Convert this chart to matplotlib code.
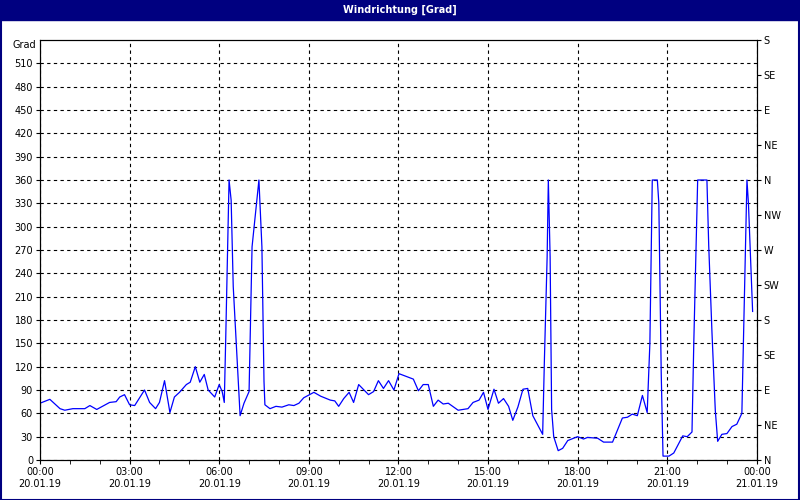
import matplotlib
matplotlib.use("Agg")
import matplotlib.pyplot as plt

# hours since 20.01.19 00:00, wind direction in degrees
hours = [0, 0.33, 0.67, 0.83, 1.1, 1.5, 1.67, 1.9, 2.33, 2.55, 2.67, 2.83, 3.0, 3.17, 3.5,
         3.67, 3.87, 4.0, 4.17, 4.35, 4.5, 4.67, 4.9, 5.03, 5.2, 5.35, 5.5, 5.63, 5.85, 6.0,
         6.1, 6.17, 6.22, 6.33, 6.4, 6.47, 6.7, 6.83, 7.0, 7.1, 7.33, 7.43, 7.5, 7.53, 7.7,
         7.9, 8.1, 8.33, 8.5, 8.67, 8.83, 9.17, 9.4, 9.72, 9.87, 10.0, 10.17, 10.35, 10.5,
         10.67, 11.0, 11.17, 11.33, 11.5, 11.67, 11.85, 12.02, 12.5, 12.67, 12.83, 13.0,
         13.17, 13.33, 13.5, 13.67, 14.0, 14.33, 14.5, 14.7, 14.85, 15.0, 15.2, 15.35, 15.52,
         15.69, 15.83, 16.0, 16.17, 16.33, 16.5, 16.83, 16.89, 16.98, 17.02, 17.08, 17.13,
         17.2, 17.35, 17.5, 17.67, 18.0, 18.2, 18.33, 18.67, 18.87, 19.17, 19.5, 19.67,
         19.83, 20.0, 20.17, 20.33, 20.42, 20.5, 20.67, 20.72, 20.8, 20.86, 21.06, 21.22,
         21.52, 21.67, 21.83, 21.89, 22.02, 22.33, 22.39, 22.5, 22.61, 22.69, 22.83, 23.0,
         23.17, 23.33, 23.5, 23.67, 23.72, 23.81, 23.86]
grad = [73, 78, 66, 64, 66, 66, 70, 65, 74, 75, 81, 84, 71, 70, 90,
        74, 66, 74, 102, 61, 81, 87, 97, 100, 120, 100, 110, 90, 81, 97,
        88, 74, 159, 360, 334, 223, 57, 73, 88, 274, 360, 274, 101, 71, 66,
        69, 68, 71, 70, 73, 80, 87, 82, 77, 76, 69, 79, 87, 74,
        97, 84, 88, 102, 92, 102, 90, 111, 104, 89, 97, 97,
        69, 77, 72, 73, 64, 66, 74, 77, 87, 65, 91, 73, 79,
        69, 51, 68, 91, 92, 57, 33, 131, 261, 360, 261, 65,
        30, 12, 15, 25, 30, 27, 29, 28, 23, 23, 54, 55,
        59, 57, 83, 61, 150, 360, 360, 330, 111, 5, 5, 9,
        31, 30, 36, 150, 360, 360, 276, 163, 64, 24, 33, 34,
        43, 46, 60, 360, 330, 240, 191]

time_labels = ['00:00\n20.01.19', '03:00\n20.01.19', '06:00\n20.01.19', '09:00\n20.01.19',
               '12:00\n20.01.19', '15:00\n20.01.19', '18:00\n20.01.19', '21:00\n20.01.19',
               '00:00\n21.01.19']
compass = ['N', 'NE', 'E', 'SE', 'S', 'SW', 'W', 'NW', 'N', 'NE', 'E', 'SE', 'S']

plt.rcParams['font.family'] = 'DejaVu Sans'
plt.rcParams['font.size'] = 7

fig = plt.figure(figsize=(8, 5), dpi=100, facecolor='white')
# window frame and title bar
fig.patches.append(plt.Rectangle((0, 0.96), 1, 0.04, transform=fig.transFigure,
                                 color='#000080', zorder=0))
fig.patches.append(plt.Rectangle((0.001, 0.001), 0.998, 0.998, transform=fig.transFigure,
                                 fill=False, edgecolor='#000080', linewidth=1.5, zorder=0))
fig.text(0.5, 0.98, 'Windrichtung [Grad]', color='white', ha='center', va='center',
         fontsize=7, fontweight='bold')

ax = fig.add_axes([0.05, 0.08, 0.896, 0.84])
ax.plot(hours, grad, color='#0000ff', linewidth=0.9)

ax.set_xlim(0, 24)
ax.set_ylim(0, 540)
ax.set_xticks(range(0, 25, 3))
ax.set_xticklabels(time_labels)
ax.set_xticks(range(0, 25), minor=True)
ax.set_yticks(range(0, 540, 30))
ax.grid(True, color='black', linestyle=(0, (3, 3)), linewidth=0.8)
ax.tick_params(direction='out', length=3, pad=2)
ax.tick_params(which='minor', length=3)
for s in ax.spines.values():
    s.set_linewidth(0.8)

ax2 = ax.twinx()
ax2.set_ylim(0, 540)
ax2.set_yticks(range(0, 541, 45))
ax2.set_yticklabels(compass)
ax2.tick_params(direction='out', length=3, pad=2)

fig.text(0.045, 0.91, 'Grad', ha='right', va='center', fontsize=7)

fig.savefig('out.png', dpi=100, facecolor=fig.get_facecolor())
